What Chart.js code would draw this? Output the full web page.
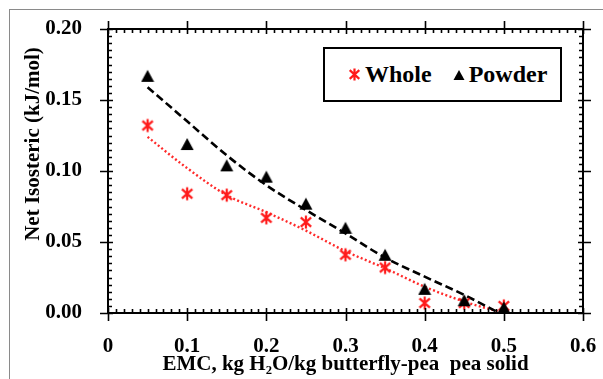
<!DOCTYPE html>
<html>
<head>
<meta charset="utf-8">
<script src="https://cdn.jsdelivr.net/npm/chart.js@4.4.0/dist/chart.umd.min.js"></script>
<style>
  html, body { margin: 0; padding: 0; background: #fff; }
  #wrap { position: relative; width: 603px; height: 379px; overflow: hidden; }
  #chart { position: absolute; left: 0; top: 0; }
  #frame { position: absolute; left: 9px; top: 9px; right: -2px; bottom: -2px;
           border-left: 1px solid #8a8a8a; border-top: 1px solid #8a8a8a; }
  #legend { position: absolute; left: 323px; top: 47px; width: 235px; height: 51px;
            border: 2px solid #000; background: #fff;
            font: bold 24px "Liberation Serif", "Times New Roman", serif; color: #000;
            display: flex; align-items: center; }
  #legend .item { display: flex; align-items: center; }
  #legend canvas { display: block; }
</style>
</head>
<body>
<div id="wrap">
  <div id="frame"></div>
  <canvas id="chart" width="603" height="379"></canvas>
  <div id="legend">
    <div class="item" style="margin-left:22px"><span id="lgWhole"></span><span style="margin-left:3px">Whole</span></div>
    <div class="item" style="margin-left:21px"><span id="lgPowder"></span><span style="margin-left:4px">Powder</span></div>
  </div>
</div>
<script>
// measured values
const emc         = [0.05, 0.10, 0.15, 0.20, 0.25, 0.30, 0.35, 0.40, 0.45, 0.50];
const wholeNet    = [0.132, 0.084, 0.083, 0.067, 0.064, 0.041, 0.032, 0.007, 0.007, 0.005];
const powderNet   = [0.167, 0.119, 0.104, 0.096, 0.077, 0.060, 0.041, 0.017, 0.009, 0.004];

// fitted trend lines
const powderFitX  = [0.05, 0.10, 0.15, 0.20, 0.25, 0.30, 0.35, 0.40, 0.45, 0.494];
const powderFitY  = [0.159, 0.135, 0.111, 0.090, 0.0725, 0.056, 0.039, 0.0256, 0.0127, 0];
const wholeFitX   = [0.05, 0.10, 0.15, 0.20, 0.25, 0.30, 0.35, 0.40, 0.45, 0.50];
const wholeFitY   = [0.124, 0.102, 0.083, 0.071, 0.058, 0.0435, 0.0315, 0.0185, 0.008, 0];

const xTicks = [0, 0.1, 0.2, 0.3, 0.4, 0.5, 0.6];
const yTicks = [0, 0.05, 0.10, 0.15, 0.20];

const SERIF = '"Liberation Serif", "Times New Roman", serif';
const Y_TITLE = 'Net Isosteric (kJ/mol)';

function asterisk(size) {
  const c = document.createElement('canvas');
  c.width = c.height = size;
  const g = c.getContext('2d');
  const m = size / 2, r = size / 2 - 1.5;
  g.strokeStyle = '#ff1a1a'; g.lineWidth = 2.2;
  g.beginPath();
  g.moveTo(m, m - r); g.lineTo(m, m + r);
  g.moveTo(m - r * 0.8, m - r * 0.72); g.lineTo(m + r * 0.8, m + r * 0.72);
  g.moveTo(m - r * 0.8, m + r * 0.72); g.lineTo(m + r * 0.8, m - r * 0.72);
  g.stroke();
  return c;
}
function triangle(size) {
  const c = document.createElement('canvas');
  c.width = c.height = size;
  const g = c.getContext('2d');
  g.fillStyle = '#000';
  g.beginPath();
  g.moveTo(size / 2, 1); g.lineTo(size - 0.5, size - 1); g.lineTo(0.5, size - 1);
  g.closePath(); g.fill();
  return c;
}

document.getElementById('lgWhole').appendChild(asterisk(15));
document.getElementById('lgPowder').appendChild(triangle(12));

const pairs = (xs, ys) => xs.map((v, i) => ({ x: v, y: ys[i] }));

// box + minor/major ticks on all four sides, y title placed like the original
const frameTicks = {
  id: 'frameTicks',
  afterDraw(chart) {
    const { ctx, chartArea: a, scales: { x, y } } = chart;
    ctx.save();
    ctx.strokeStyle = '#000';
    ctx.lineWidth = 2;
    ctx.strokeRect(a.left, a.top, a.right - a.left, a.bottom - a.top);
    ctx.lineWidth = 1.6;
    ctx.beginPath();
    for (let i = 0; i <= 60; i++) {
      const px = Math.round(x.getPixelForValue(i / 100)) + 0.5;
      const major = i % 10 === 0;
      const out = major ? 8 : 0, inn = major ? 5 : 4;
      ctx.moveTo(px, a.bottom + out); ctx.lineTo(px, a.bottom - inn);
      ctx.moveTo(px, a.top - out);    ctx.lineTo(px, a.top + inn);
    }
    for (let i = 0; i <= 40; i++) {
      const py = Math.round(y.getPixelForValue(i * 0.005)) + 0.5;
      const major = i % 10 === 0;
      const out = major ? 8 : 0, inn = major ? 5 : 4;
      ctx.moveTo(a.left - out, py);  ctx.lineTo(a.left + inn, py);
      ctx.moveTo(a.right + out, py); ctx.lineTo(a.right - inn, py);
    }
    ctx.stroke();

    ctx.translate(34, 144);
    ctx.rotate(-Math.PI / 2);
    ctx.fillStyle = '#000';
    ctx.font = 'bold 21px ' + SERIF;
    ctx.textAlign = 'center';
    ctx.textBaseline = 'middle';
    ctx.fillText(Y_TITLE, 0, 0);
    ctx.restore();
  }
};

new Chart(document.getElementById('chart'), {
  type: 'scatter',
  data: {
    datasets: [
      {
        label: 'Powder',
        data: pairs(emc, powderNet),
        pointStyle: triangle(14),
        pointRadius: 7,
        clip: false,
      },
      {
        label: 'Whole',
        data: pairs(emc, wholeNet),
        pointStyle: asterisk(16),
        pointRadius: 8,
        clip: false,
      },
      {
        label: 'Powder fit',
        type: 'line',
        data: pairs(powderFitX, powderFitY),
        borderColor: '#000',
        borderWidth: 2.6,
        borderDash: [8, 4],
        pointRadius: 0,
        cubicInterpolationMode: 'monotone',
        fill: false,
      },
      {
        label: 'Whole fit',
        type: 'line',
        data: pairs(wholeFitX, wholeFitY),
        borderColor: '#ff2a2a',
        borderWidth: 2.4,
        borderDash: [2, 2.4],
        pointRadius: 0,
        cubicInterpolationMode: 'monotone',
        fill: false,
      },
    ],
  },
  options: {
    responsive: false,
    animation: false,
    layout: { autoPadding: false, padding: { top: 29, right: 20, left: 0, bottom: 0 } },
    plugins: { legend: { display: false }, tooltip: { enabled: false } },
    scales: {
      x: {
        min: 0, max: 0.6,
        afterFit: s => { s.height = 66; s.paddingLeft = 0; s.paddingRight = 0; },
        afterBuildTicks: s => { s.ticks = xTicks.map(v => ({ value: v })); },
        grid: { display: false },
        border: { display: false },
        ticks: {
          color: '#000', padding: 13,
          font: { family: SERIF, size: 21, weight: 'bold' },
          callback: v => v === 0 ? '0' : String(Number(v.toFixed(1))),
        },
        title: {
          display: true, text: 'EMC, kg H\u2082O/kg butterfly-pea  pea solid',
          color: '#000', padding: { top: 0, bottom: 2 },
          font: { family: SERIF, size: 21, weight: 'bold' },
        },
      },
      y: {
        min: 0, max: 0.2,
        afterFit: s => { s.width = 108; s.paddingTop = 0; s.paddingBottom = 0; },
        afterBuildTicks: s => { s.ticks = yTicks.map(v => ({ value: v })); },
        grid: { display: false },
        border: { display: false },
        ticks: {
          color: '#000', padding: 18,
          font: { family: SERIF, size: 21, weight: 'bold' },
          callback: v => v.toFixed(2),
        },
      },
    },
  },
  plugins: [frameTicks],
});
</script>
</body>
</html>
